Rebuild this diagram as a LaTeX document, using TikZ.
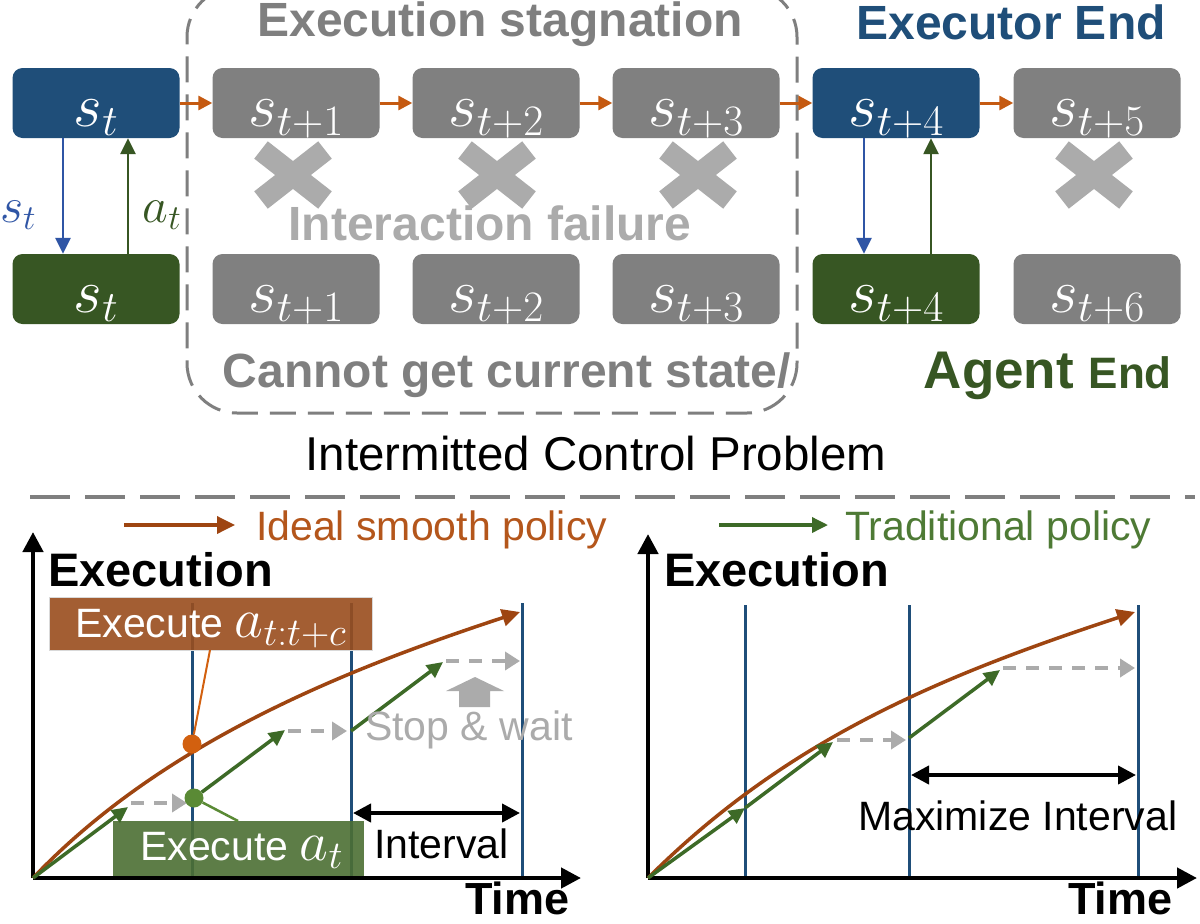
\RequirePackage{fix-cm}
\documentclass[tikz,border=0pt]{standalone}
\usepackage{fontspec}
\setmainfont{Liberation Sans}
\usetikzlibrary{arrows.meta}
\definecolor{eblue}{HTML}{1F4E79}
\definecolor{arblue}{HTML}{2F55A5}
\definecolor{agreen}{HTML}{375623}
\definecolor{boxgray}{HTML}{808080}
\definecolor{lgray}{HTML}{ABABAB}
\definecolor{txgray}{HTML}{7F7F7F}
\definecolor{orng}{HTML}{C55A11}
\definecolor{brwn}{HTML}{9E4511}
\definecolor{legbrwn}{HTML}{B4561B}
\definecolor{grn}{HTML}{3D6A27}
\definecolor{leggrn}{HTML}{4E7A35}
\definecolor{dotorng}{HTML}{D2600F}
\definecolor{dotgrn}{HTML}{5A8A35}
\definecolor{brbox}{HTML}{994D1D}
\definecolor{grbox}{HTML}{4C6F34}
\newcommand{\fsz}[1]{\fontsize{#1}{#1}\selectfont}
\begin{document}
\begin{tikzpicture}[x=1pt,y=-1pt,
  statebox/.style={rounded corners=10pt, minimum width=167pt, minimum height=70pt,
    inner sep=0pt, text=white, text height=52pt, text depth=6pt, font=\fsz{62}},
  exbox/.style={statebox, fill=eblue},
  agbox/.style={statebox, fill=agreen},
  grbox/.style={statebox, fill=boxgray},
  flowarr/.style={orng, line width=3pt, -{Triangle[length=14pt,width=14pt]}},
  downarr/.style={arblue, line width=2.5pt, -{Triangle[length=16pt,width=15pt]}},
  uparr/.style={agreen, line width=2.5pt, -{Triangle[length=16pt,width=15pt]}},
  crossline/.style={lgray, line width=22pt},
  bigbold/.style={font=\fsz{48}\bfseries, anchor=base},
  axis/.style={black, line width=4.5pt, -{Triangle[length=20pt,width=20pt]}},
  tline/.style={eblue, line width=3pt},
  curvearr/.style={brwn, line width=3.5pt, -{Triangle[length=18pt,width=17pt]}},
  garr/.style={grn, line width=3.5pt, -{Triangle[length=16pt,width=15pt]}},
  gdash/.style={lgray, line width=4pt, dash pattern=on 13pt off 10pt, -{Triangle[length=15pt,width=18pt]}},
  dbl/.style={black, line width=4pt, {Triangle[length=18pt,width=18pt]}-{Triangle[length=18pt,width=18pt]}},
  lbl/.style={font=\fsz{41}, anchor=base west, inner sep=0pt},
  axlbl/.style={font=\fsz{47}\bfseries, anchor=base west, inner sep=0pt, text height=34pt, text depth=0pt}
]
\useasboundingbox (0,0) rectangle (1200,924);
\fill[white] (0,0) rectangle (1200,924);

% ---------- top part ----------
\node[draw=txgray, line width=3pt, dash pattern=on 26pt off 12pt, rounded corners=50pt,
      minimum width=610pt, minimum height=426pt, inner sep=0pt] (stag) at (492,200) {};

\node[exbox] (e0) at (96,103) {$s_t$};
\node[grbox] (e1) at (296,103) {$s_{t+1}$};
\node[grbox] (e2) at (496,103) {$s_{t+2}$};
\node[grbox] (e3) at (696,103) {$s_{t+3}$};
\node[exbox] (e4) at (896,103) {$s_{t+4}$};
\node[grbox] (e5) at (1097,103) {$s_{t+5}$};

\node[agbox] (a0) at (96,289) {$s_t$};
\node[grbox] (a1) at (296,289) {$s_{t+1}$};
\node[grbox] (a2) at (496,289) {$s_{t+2}$};
\node[grbox] (a3) at (696,289) {$s_{t+3}$};
\node[agbox] (a4) at (896,289) {$s_{t+4}$};
\node[grbox] (a6) at (1097,289) {$s_{t+6}$};

\draw[flowarr] (e0) -- (e1);
\draw[flowarr] (e1) -- (e2);
\draw[flowarr] (e2) -- (e3);
\draw[flowarr] (e3) -- (e4);
\draw[flowarr] (e4) -- (e5);

\draw[downarr] ([xshift=-33pt]e0.south) -- ([xshift=-33pt]a0.north);
\draw[uparr] ([xshift=32pt]a0.north) -- ([xshift=32pt]e0.south);
\draw[downarr] ([xshift=-32pt]e4.south) -- ([xshift=-32pt]a4.north);
\draw[uparr] ([xshift=35pt]a4.north) -- ([xshift=35pt]e4.south);

\node[text=arblue, font=\fsz{50}, anchor=base, inner sep=0pt] (lst) at (18,222) {$s_t$};
\node[text=agreen, font=\fsz{50}, anchor=base, inner sep=0pt] (lat) at (162,222) {$a_t$};

\foreach \cx/\nm in {293/c1,497/c2,698/c3,1094/c5}{
  \draw[crossline] (\cx-32,150) -- (\cx+32,200);
  \draw[crossline] (\cx-32,200) -- (\cx+32,150);
}

\node[bigbold, text=txgray] (stagtxt) at (500,36) {Execution stagnation};
\node[bigbold, text=eblue] (exend) at (1011,39) {Executor End};
\node[bigbold, text=lgray] (ifail) at (490,240) {Interaction failure};
\node[bigbold, text=txgray] (cannot) at (507,387) {Cannot get current state/};
\node[anchor=base east, text=agreen, font=\bfseries\fsz{53}, inner sep=0pt] (agend) at (1172,388)
  {Agent {\fsz{44}End}};

\node[font=\fsz{47.5}, anchor=base] (icp) at (596,470) {Intermitted Control Problem};
\draw[txgray, line width=4pt, dash pattern=on 40pt off 15pt] (30,497) -- (1195,497);

% ---------- legend ----------
\coordinate (lgA) at (124,525);
\coordinate (lgB) at (235,525);
\draw[curvearr] (lgA) -- (lgB);
\node[lbl, text=legbrwn] (lgt1) at (256,540) {Ideal smooth policy};
\coordinate (lgC) at (719,525);
\coordinate (lgD) at (828,525);
\draw[garr] (lgC) -- (lgD);
\node[lbl, text=leggrn] (lgt2) at (845,540) {Traditional policy};

% ---------- left chart ----------
\coordinate (O1) at (33,878);
\draw[tline] (192,603) -- (192,878);
\draw[tline] (351,603) -- (351,878);
\draw[tline] (522,603) -- (522,878);

\node[fill=brbox, fill opacity=0.9, draw=black!15, line width=1pt, minimum width=323pt,
      minimum height=53pt, inner sep=0pt, anchor=north west] (brb) at (49,597) {};
\node[fill=grbox, fill opacity=0.9, minimum width=251pt, minimum height=56pt,
      inner sep=0pt, anchor=north west] (grb) at (113,821) {};
\node[lbl, text=white, text height=30pt, text depth=9pt] (brbt) at (75,637) {Execute {\fsz{56}$a_{t:t+c}$}};
\node[lbl, text=white, text height=30pt, text depth=9pt] (grbt) at (140,860) {Execute {\fsz{56}$a_t$}};

\draw[axis] (O1) -- (33,532);
\draw[axis] (O1) -- (581,878);

\draw[curvearr] (O1) .. controls (163,741) and (350,668) .. (520,612);

\coordinate (g1) at (128,807);
\coordinate (g2) at (285,730);
\coordinate (g3) at (443,662);
\draw[garr] (O1) -- (g1);
\draw[gdash] (131,803) -- (187,803);
\node[circle, fill=dotgrn, inner sep=0pt, minimum size=19pt] (gdot) at (194,798) {};
\draw[dotgrn, line width=2.5pt] (gdot) -- (238,821);
\draw[garr] (gdot) -- (g2);
\draw[gdash] (288,731) -- (347,731);
\draw[garr] (351,731) -- (g3);
\draw[gdash] (446,661) -- (520,661);

\node[circle, fill=dotorng, inner sep=0pt, minimum size=19pt] (odot) at (192,744) {};
\coordinate (obt) at (210,650);
\draw[dotorng, line width=2pt] (odot) -- (obt);

\fill[lgray] (459,707) -- (459,691) -- (446,691) -- (475,677) -- (504,691) -- (490,691) -- (490,707) -- cycle;
\node[lbl, text=lgray] (stop) at (365,740) {Stop \& wait};

\draw[dbl] (353,813) -- (520,813);
\node[lbl] (intv) at (374,858) {Interval};

\node[axlbl] (ex1) at (48,586) {Execution};
\node[axlbl, font=\fsz{45}\bfseries, text height=33pt] (tm1) at (465,914) {Time};

% ---------- right chart ----------
\coordinate (O2) at (648,878);
\draw[tline] (745,605) -- (745,878);
\draw[tline] (909,605) -- (909,878);
\draw[tline] (1138,605) -- (1138,878);
\draw[axis] (O2) -- (648,534);
\draw[axis] (O2) -- (1197,878);

\draw[curvearr] (O2) .. controls (788,738) and (944,675) .. (1135,612);

\coordinate (h1) at (745,808);
\coordinate (h2) at (833,742);
\coordinate (h3) at (1000,670);
\draw[garr] (O2) -- (h1);
\draw[garr] (h1) -- (h2);
\draw[gdash] (837,740) -- (906,740);
\draw[garr] (909,738) -- (h3);
\draw[gdash] (1003,668) -- (1135,668);

\draw[dbl] (911,775) -- (1136,775);
\node[lbl] (maxi) at (858,830) {Maximize Interval};

\node[axlbl] (ex2) at (664,586) {Execution};
\node[axlbl, font=\fsz{45}\bfseries, text height=33pt] (tm2) at (1068,914) {Time};
\end{tikzpicture}
\end{document}
